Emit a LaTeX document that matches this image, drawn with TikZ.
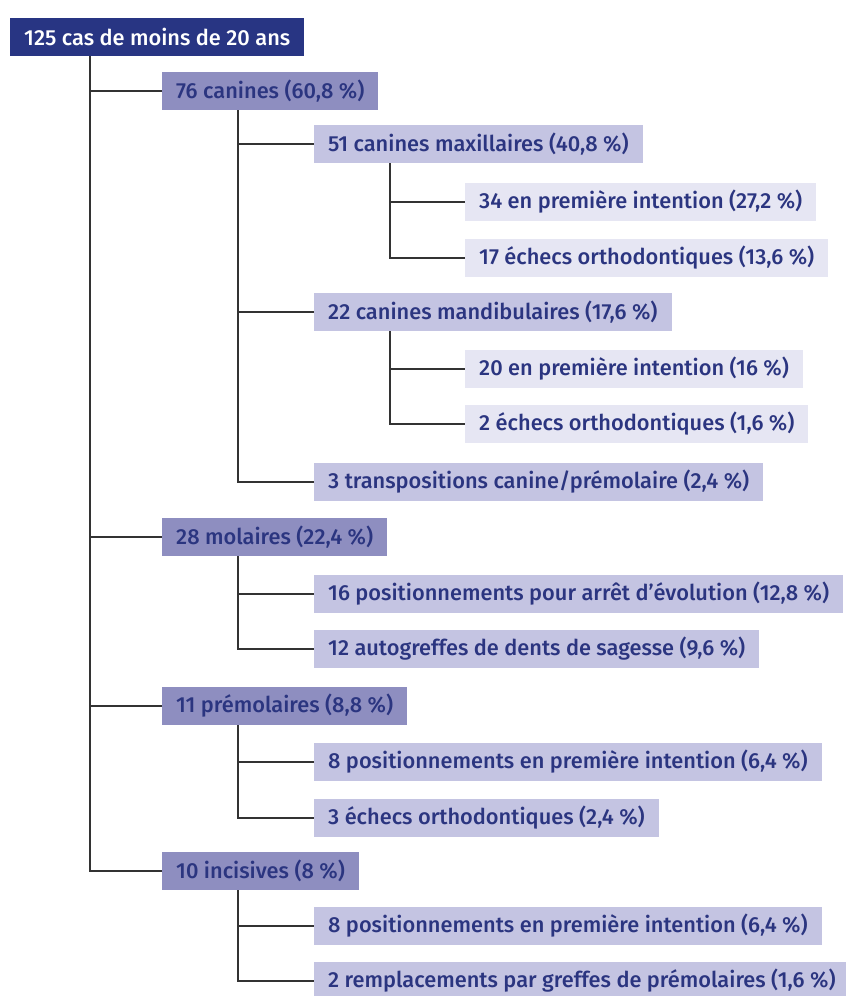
\documentclass[tikz,border=0pt]{standalone}
\usepackage{fontspec}
\setmainfont{Fira Sans}[UprightFont={* Medium}]
\usepackage{xcolor}
\usepackage{tikz}
\usetikzlibrary{positioning}

\definecolor{navy}{HTML}{283583}
\definecolor{txtblue}{HTML}{2B3580}
\definecolor{lvlone}{HTML}{8E8EC0}
\definecolor{lvltwo}{HTML}{C4C4E2}
\definecolor{lvlthree}{HTML}{E6E6F3}

\tikzset{
    box/.style={anchor=west, minimum height=38pt, inner xsep=14pt, inner ysep=0pt,
        text=txtblue, font=\fontsize{21.8}{22}\selectfont},
    rootbox/.style={box, fill=navy, text=white},
    boxone/.style={box, fill=lvlone},
    boxtwo/.style={box, fill=lvltwo},
    boxthree/.style={box, fill=lvlthree},
    branch/.style={draw=black!80, line width=1.2pt}
}

\begin{document}
\begin{tikzpicture}[x=1pt, y=-1pt]
    \useasboundingbox (0,0) rectangle (846,996);

    % Racine
    \node[rootbox] (root) at (10,37) {125 cas de moins de 20 ans};

    % Premier niveau
    \node[boxone] (can) at (162,91)  {76 canines (60,8 \%)};
    \node[boxone] (mol) at (162,537) {28 molaires (22,4 \%)};
    \node[boxone] (pre) at (162,706) {11 prémolaires (8,8 \%)};
    \node[boxone] (inc) at (162,871) {10 incisives (8 \%)};

    % Canines
    \node[boxtwo] (cmax) at (314,144) {51 canines maxillaires (40,8 \%)};
    \node[boxthree] (cmaxa) at (465,202) {34 en première intention (27,2 \%)};
    \node[boxthree] (cmaxb) at (465,258) {17 échecs orthodontiques (13,6 \%)};
    \node[boxtwo] (cmand) at (314,312) {22 canines mandibulaires (17,6 \%)};
    \node[boxthree] (cmanda) at (465,369) {20 en première intention (16 \%)};
    \node[boxthree] (cmandb) at (465,424) {2 échecs orthodontiques (1,6 \%)};
    \node[boxtwo] (ctrans) at (314,482) {3 transpositions canine/prémolaire (2,4 \%)};

    % Molaires
    \node[boxtwo] (mola) at (314,594) {16 positionnements pour arrêt d’évolution (12,8 \%)};
    \node[boxtwo] (molb) at (314,649) {12 autogreffes de dents de sagesse (9,6 \%)};

    % Prémolaires
    \node[boxtwo] (prea) at (314,762) {8 positionnements en première intention (6,4 \%)};
    \node[boxtwo] (preb) at (314,818) {3 échecs orthodontiques (2,4 \%)};

    % Incisives
    \node[boxtwo] (inca) at (314,926) {8 positionnements en première intention (6,4 \%)};
    \node[boxtwo] (incb) at (314,981) {2 remplacements par greffes de prémolaires (1,6 \%)};

    % Branches
    \foreach \n in {can,mol,pre,inc}
        \draw[branch] ([xshift=80pt]root.south west) |- (\n.west);
    \foreach \n in {cmax,cmand,ctrans}
        \draw[branch] ([xshift=76pt]can.south west) |- (\n.west);
    \foreach \n in {cmaxa,cmaxb}
        \draw[branch] ([xshift=76pt]cmax.south west) |- (\n.west);
    \foreach \n in {cmanda,cmandb}
        \draw[branch] ([xshift=76pt]cmand.south west) |- (\n.west);
    \foreach \n in {mola,molb}
        \draw[branch] ([xshift=76pt]mol.south west) |- (\n.west);
    \foreach \n in {prea,preb}
        \draw[branch] ([xshift=76pt]pre.south west) |- (\n.west);
    \foreach \n in {inca,incb}
        \draw[branch] ([xshift=76pt]inc.south west) |- (\n.west);
\end{tikzpicture}
\end{document}
